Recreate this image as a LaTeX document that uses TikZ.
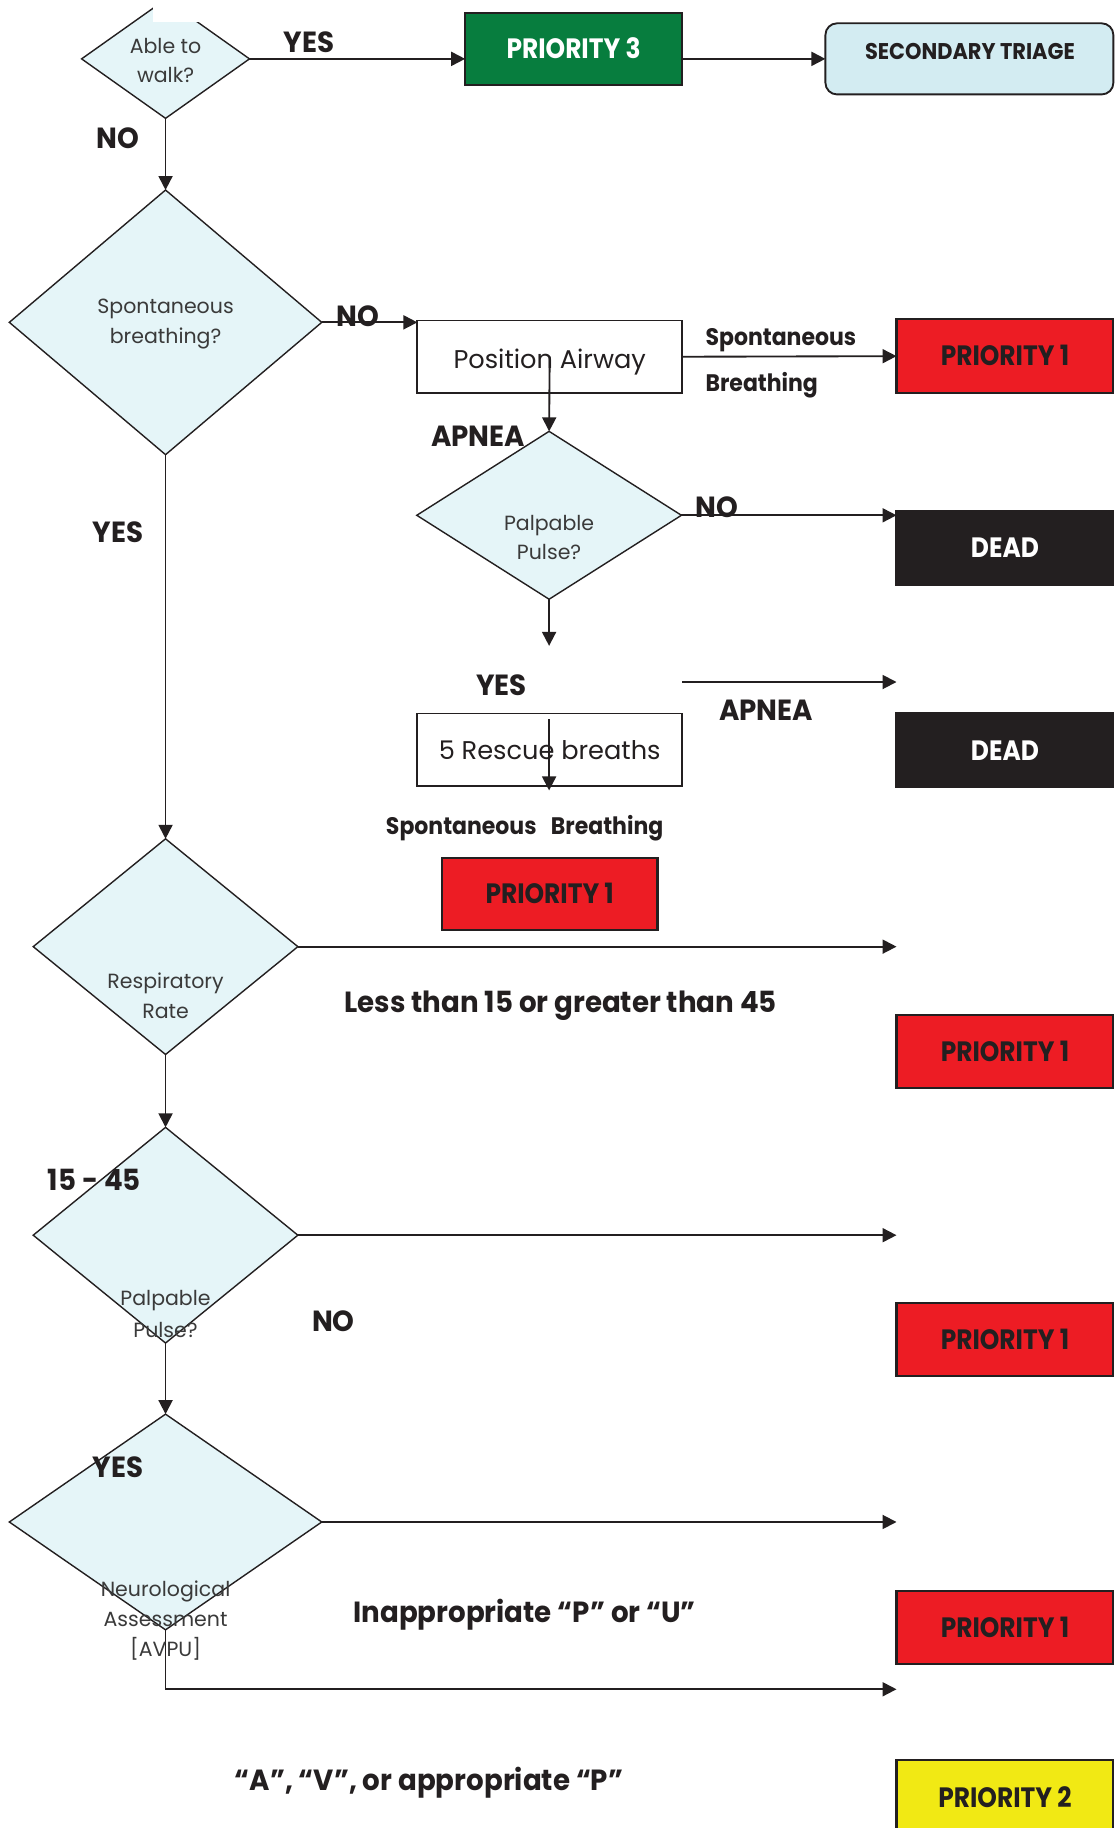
\documentclass[tikz,border=0pt]{standalone}
\usepackage{fontspec}
\setmainfont{Poppins}
\newfontfamily\lblfont[FakeStretch=0.95]{Poppins}
\newfontfamily\boxfont[FakeStretch=0.89]{Poppins}
\newfontfamily\smfont[FakeStretch=0.92]{Poppins}
\usetikzlibrary{arrows.meta,shapes.geometric}
\definecolor{ink}{HTML}{231F20}
\definecolor{txtgrey}{HTML}{3A3A3A}
\definecolor{diafill}{HTML}{E5F5F8}
\definecolor{triagefill}{HTML}{D3ECF2}
\definecolor{pgreen}{HTML}{077D3E}
\definecolor{pred}{HTML}{ED1C24}
\definecolor{pyellow}{HTML}{F1E914}
\tikzset{
  conn/.style={draw=ink, line width=1.6pt, -{Triangle[length=12pt,width=12pt]}},
  dia/.style={diamond, draw=ink, fill=diafill, line width=1.2pt, inner sep=0pt, outer sep=0pt},
  diatext/.style={font=\fontsize{17.6}{26}\selectfont, text=txtgrey, align=center, inner sep=0pt},
  pbox/.style={rectangle, draw=ink, line width=1.8pt, minimum width=186pt, minimum height=62pt,
    inner sep=0pt, outer sep=0pt, font=\boxfont\bfseries\fontsize{24}{24}\selectfont, text=ink,
    text height=16.8pt, text depth=0pt},
  redbox/.style={pbox, fill=pred},
  deadbox/.style={pbox, fill=ink, draw=ink, text=white, minimum height=64pt},
  actbox/.style={rectangle, draw=ink, line width=1.5pt, fill=white, minimum width=227pt,
    minimum height=62pt, inner sep=0pt, outer sep=0pt, font=\fontsize{22}{22}\selectfont, text=ink,
    text height=15.5pt, text depth=0pt},
  lbl/.style={font=\lblfont\bfseries\fontsize{25}{25}\selectfont, text=ink, inner sep=0pt,
    text height=17.5pt, text depth=0pt},
  smlbl/.style={font=\smfont\bfseries\fontsize{20.5}{20.5}\selectfont, text=ink, inner sep=0pt,
    text height=14.3pt, text depth=0pt},
}
\begin{document}
\begin{tikzpicture}[x=1pt,y=-1pt]
\useasboundingbox (0,0) rectangle (956,1568);
\fill[white] (0,0) rectangle (956,1568);

% ---- decision diamonds ----
\node[dia, minimum width=144pt, minimum height=102pt] (walk) at (142,50.5) {};
\fill[white] (131,-2) rectangle (171,19);
\node[diatext, font=\fontsize{17.6}{25}\selectfont] (walkt) at (142,52) {Able to\\walk?};

\node[dia, minimum width=268pt, minimum height=227pt] (sb) at (142,276.5) {};
\node[diatext] (sbt) at (142,278) {Spontaneous\\breathing?};

\node[dia, minimum width=227pt, minimum height=144pt] (pp1) at (471,442) {};
\node[diatext, font=\fontsize{17.6}{25}\selectfont] (pp1t) at (471,461) {Palpable\\Pulse?};

\node[dia, minimum width=227pt, minimum height=185pt] (rr) at (142,812) {};
\node[diatext] (rrt) at (142,854) {Respiratory\\Rate};

\node[dia, minimum width=227pt, minimum height=185pt] (pp2) at (142,1059.5) {};
\node[diatext, font=\fontsize{17.6}{28}\selectfont] (pp2t) at (142,1127) {Palpable\\Pulse?};

\node[dia, minimum width=268pt, minimum height=185pt] (neuro) at (142,1305.5) {};

% ---- outcome and action boxes ----
\node[pbox, fill=pgreen, text=white] (p3) at (492,42) {PRIORITY 3};
\node[rectangle, rounded corners=10pt, draw=ink, line width=1.6pt, fill=triagefill,
  minimum width=247pt, minimum height=61pt, inner sep=0pt, outer sep=0pt] (st) at (831.5,50.5) {};
\node[font=\smfont\bfseries\fontsize{19.5}{19.5}\selectfont, text=ink, inner sep=0pt,
  text height=13.7pt, text depth=0pt] (stt) at (832,44) {SECONDARY TRIAGE};

\node[actbox, text height=19.5pt] (pa) at (471.5,306) {Position Airway};
\node[redbox, minimum height=63pt] (p1a) at (862,305.5) {PRIORITY 1};
\node[deadbox] (dead1) at (862,470) {DEAD};
\node[deadbox, minimum height=63pt] (dead2) at (862,643.5) {DEAD};
\node[actbox, text height=17.5pt] (rb) at (471.5,643) {5 Rescue breaths};
\node[redbox, minimum width=185pt] (p1b) at (471.5,767) {PRIORITY 1};
\node[redbox] (p1c) at (862,902) {PRIORITY 1};
\node[redbox] (p1d) at (862,1149) {PRIORITY 1};
\node[redbox] (p1e) at (862,1396) {PRIORITY 1};
\node[pbox, fill=pyellow, minimum height=68pt] (p2) at (862,1544) {};
\node[font=\boxfont\bfseries\fontsize{24}{24}\selectfont, text=ink, inner sep=0pt,
  text height=16.8pt, text depth=0pt] (p2t) at (862,1542) {PRIORITY 2};

% ---- free arrow ends ----
\coordinate (ppdown) at (471,554);
\coordinate (apS) at (585,585);
\coordinate (apE) at (769,585);
\coordinate (rbA) at (471,617);
\coordinate (rbB) at (471,678);
\coordinate (rrE) at (769,812);
\coordinate (pp2E) at (769,1059.5);
\coordinate (neE) at (769,1305.5);
\coordinate (neC) at (142,1449);
\coordinate (neD) at (769,1449);

% ---- connectors ----
\draw[conn] (walk.east) -- (walk.east -| p3.west);
\draw[conn] (walk.east -| p3.east) -- (walk.east -| st.west);
\draw[conn] (walk.south) -- (sb.north);
\draw[conn] (sb.east) -- (sb.east -| pa.west);
\draw[conn] (pa.east) -- (p1a.west);
\draw[conn] (pa.center) -- (pp1.north);
\draw[conn] (pp1.east) -- (pp1.east -| dead1.west);
\draw[conn] (pp1.south) -- (ppdown);
\draw[conn] (apS) -- (apE);
\draw[conn] (rbA) -- (rbB);
\draw[conn] (sb.south) -- (rr.north);
\draw[conn] (rr.east) -- (rrE);
\draw[conn] (rr.south) -- (pp2.north);
\draw[conn] (pp2.east) -- (pp2E);
\draw[conn] (pp2.south) -- (neuro.north);
\draw[conn] (neuro.east) -- (neE);
\draw[conn] (neuro.south) -- (neC) -- (neD);

% ---- text over the lower diamond ----
\node[diatext, font=\fontsize{17.6}{25.5}\selectfont] (neurot) at (142,1390) {Neurological\\Assessment\\{[AVPU]}};

% ---- branch labels ----
\node[lbl] (l1) at (265,36) {YES};
\node[lbl] (l2) at (101,119) {NO};
\node[lbl] (l3) at (307,271) {NO};
\node[smlbl, anchor=west] (l4) at (605,289) {Spontaneous};
\node[smlbl, anchor=west] (l5) at (605,329) {Breathing};
\node[lbl] (l6) at (410,374) {APNEA};
\node[lbl] (l7) at (615,435) {NO};
\node[lbl] (l8) at (430,588) {YES};
\node[lbl] (l9) at (657,609) {APNEA};
\node[smlbl] (l10) at (450,709) {Spontaneous\hspace{0.6em}Breathing};
\node[lbl] (l11) at (101,457) {YES};
\node[lbl] (l12) at (481,860) {Less than 15 or greater than 45};
\node[lbl] (l13) at (81,1012) {15 - 45};
\node[lbl] (l14) at (286,1133) {NO};
\node[lbl] (l15) at (101,1259) {YES};
\node[lbl] (l16) at (450,1383) {Inappropriate “P” or “U”};
\node[lbl] (l17) at (368,1527) {“A”, “V”, or appropriate “P”};
\end{tikzpicture}
\end{document}
